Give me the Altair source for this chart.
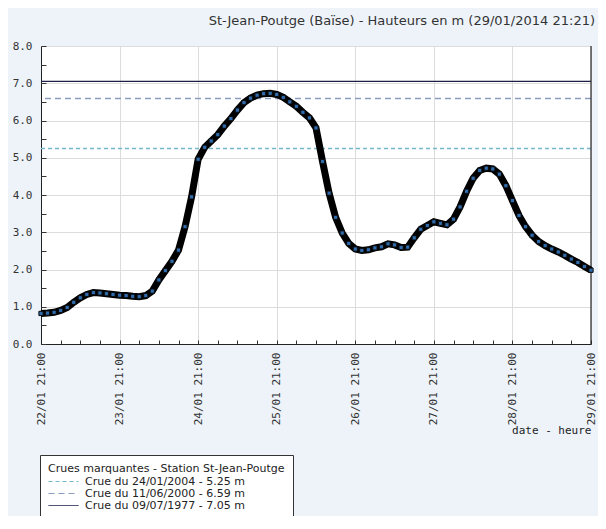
import altair as alt
import pandas as pd

# Water level (m) every 2 hours from 22/01/2014 21:00 to 29/01/2014 21:00
levels = [
    0.82, 0.83, 0.85, 0.90, 0.98, 1.12, 1.24, 1.33, 1.38, 1.37, 1.35, 1.33,
    1.31, 1.30, 1.28, 1.27, 1.30, 1.42, 1.72, 1.97, 2.22, 2.52, 3.15, 3.95,
    4.96, 5.28, 5.45, 5.62, 5.85, 6.05, 6.28, 6.48, 6.60, 6.68, 6.72, 6.73,
    6.70, 6.62, 6.50, 6.38, 6.22, 6.07, 5.80, 4.90, 4.05, 3.40, 2.98, 2.70,
    2.55, 2.51, 2.53, 2.58, 2.61, 2.69, 2.66, 2.59, 2.60, 2.85, 3.08, 3.18,
    3.28, 3.24, 3.20, 3.35, 3.68, 4.10, 4.45, 4.66, 4.72, 4.70, 4.56, 4.25,
    3.85, 3.45, 3.15, 2.92, 2.75, 2.64, 2.55, 2.47, 2.38, 2.28, 2.19, 2.08,
    1.98,
]
times = pd.date_range("2014-01-22 21:00", periods=len(levels), freq="2h")

flood_labels = [
    "Crue du 24/01/2004 - 5.25 m",
    "Crue du 11/06/2000 - 6.59 m",
    "Crue du 09/07/1977 - 7.05 m",
]
flood_values = [5.25, 6.59, 7.05]
flood_colors = ["#74b9c9", "#8c9cc0", "#1c1c48"]
flood_dashes = [[4, 3], [6, 4], [1, 0]]

day_ticks = pd.date_range("2014-01-22 21:00", "2014-01-29 21:00", freq="1D")
minor_ticks = pd.date_range("2014-01-22 21:00", "2014-01-29 21:00", freq="6h")
y_major = [0, 1, 2, 3, 4, 5, 6, 7, 8]
y_minor = [i * 0.5 for i in range(17)]

df = pd.DataFrame({"t": times, "h": levels})
floods = pd.DataFrame({"label": flood_labels, "h": flood_values})
edge = pd.DataFrame({"t": [day_ticks[-1]]})

W, H = 550, 298


def dt(ts):
    return alt.DateTime(year=ts.year, month=ts.month, date=ts.day,
                        hours=ts.hour, minutes=ts.minute)


xdomain = [dt(day_ticks[0]), dt(day_ticks[-1])]
xscale = alt.Scale(domain=xdomain, nice=False)
yscale = alt.Scale(domain=[0, 8], nice=False, zero=False)

MONO = "DejaVu Sans Mono"
SANS = "DejaVu Sans"
LEGEND_TITLE = "Crues marquantes - Station St-Jean-Poutge"

main_x_axis = alt.Axis(
    values=[dt(d) for d in day_ticks], format="%d/%m %H:%M", labelAngle=270,
    labelAlign="right", labelBaseline="middle", labelFont=MONO, labelFontSize=11,
    labelColor="#333333", labelPadding=8, ticks=False, grid=True,
    gridColor="#dcdcdc", domainColor="#222222", title="date - heure",
    titleFont=MONO, titleFontSize=11, titleFontWeight="normal",
    titleColor="#222222", titleAnchor="end", titlePadding=0, labelOverlap=False,
    orient="bottom",
)
main_y_axis = alt.Axis(
    values=y_major, format=".1f", labelFont=MONO, labelFontSize=11,
    labelColor="#333333", labelPadding=9, ticks=False, grid=True,
    gridColor="#dcdcdc", domainColor="#222222", title=None, orient="left",
)
tick_x_axis = alt.Axis(
    values=[dt(d) for d in minor_ticks], labels=False, ticks=True, tickSize=4,
    tickColor="#333333", domain=False, grid=False, title=None, orient="top",
    offset=-H,
)
tick_y_axis = alt.Axis(
    values=y_minor, labels=False, ticks=True, tickSize=5, tickColor="#333333",
    domain=False, grid=False, title=None, orient="right", offset=-W,
)

rules = alt.Chart(floods).mark_rule(strokeWidth=1.4).encode(
    y=alt.Y("h:Q", scale=yscale, axis=None),
    color=alt.Color(
        "label:N",
        scale=alt.Scale(domain=flood_labels, range=flood_colors),
        legend=alt.Legend(
            title=LEGEND_TITLE, orient="none",
            legendX=-1, legendY=409, fillColor="white", strokeColor="#333333",
            padding=8, symbolType="stroke", symbolSize=900, clipHeight=11,
            symbolStrokeWidth=1, labelFont=SANS, labelFontSize=11,
            labelColor="#222222", titleFont=SANS, titleFontSize=11,
            titleFontWeight="normal", titleColor="#222222", rowPadding=0,
            titlePadding=2, labelOffset=6, labelLimit=400, titleLimit=500,
        ),
    ),
    strokeDash=alt.StrokeDash(
        "label:N",
        scale=alt.Scale(domain=flood_labels, range=flood_dashes),
        legend=alt.Legend(title=LEGEND_TITLE, orient="none",
                          legendX=-1, legendY=409),
    ),
)

edge_rule = alt.Chart(edge).mark_rule(color="#222222", strokeWidth=1.2).encode(
    x=alt.X("t:T", scale=xscale, axis=None),
)

line = alt.Chart(df).mark_line(color="#000000", strokeWidth=7).encode(
    x=alt.X("t:T", scale=xscale, axis=main_x_axis),
    y=alt.Y("h:Q", scale=yscale, axis=main_y_axis),
)

points = alt.Chart(df).mark_point(
    shape="square", filled=True, size=18, fill="#2f6aaa", stroke="#0a0a0a",
    strokeWidth=1, opacity=1,
).encode(
    x=alt.X("t:T", scale=xscale, axis=tick_x_axis),
    y=alt.Y("h:Q", scale=yscale, axis=tick_y_axis),
)

chart = alt.layer(rules, edge_rule, line, points).resolve_axis(
    x="independent", y="independent"
).properties(
    width=W,
    height=H,
    padding={"left": 33, "top": 38, "right": 7, "bottom": 172},
    autosize=alt.AutoSizeParams(type="none"),
    background="#eef3fa",
    title=alt.TitleParams(
        "St-Jean-Poutge (Baïse) - Hauteurs en m (29/01/2014 21:21)",
        anchor="end", dx=-10, offset=12, font=SANS, fontSize=13,
        fontWeight="normal", color="#333333",
    ),
).configure_view(fill="white", stroke=None)

chart.save("out.html", embed_options={"renderer": "svg", "actions": False})
